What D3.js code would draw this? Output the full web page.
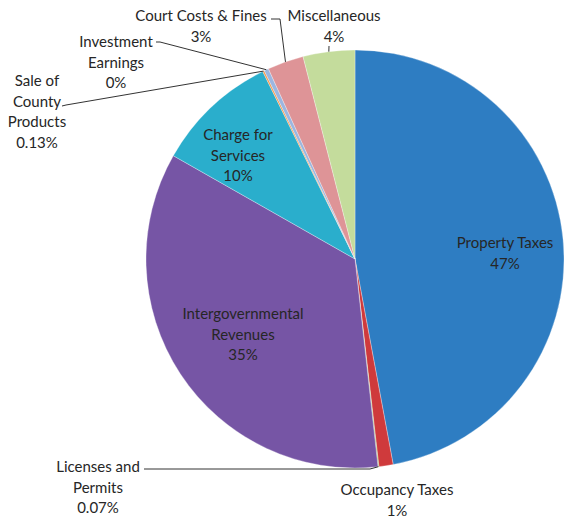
<!DOCTYPE html>
<html><head><meta charset="utf-8">
<script src="https://cdn.jsdelivr.net/npm/d3@7"></script>
<style>body{margin:0;background:#fff}svg{display:block}text{font-family:Lato,"Open Sans",sans-serif;font-size:15px;fill:#262626}</style>
</head><body><svg id="c" width="564" height="518"></svg>
<script>
const categories = ["Property Taxes","Occupancy Taxes","Licenses and Permits","Intergovernmental Revenues","Charge for Services","Sale of County Products","Investment Earnings","Court Costs & Fines","Miscellaneous"];
const values = [47.1, 1.1, 0.07, 35.0, 9.5, 0.13, 0.35, 2.8, 4.0];
const labels = [["Property Taxes","47%"],["Occupancy Taxes","1%"],["Licenses and","Permits","0.07%"],["Intergovernmental","Revenues","35%"],["Charge for","Services","10%"],["Sale of","County","Products","0.13%"],["Investment","Earnings","0%"],["Court Costs & Fines","3%"],["Miscellaneous","4%"]];
const colors = ["#2E7DC2","#CF3A3C","#9BBB59","#7655A5","#2AAECC","#F79646","#9CB6E0","#DE9497","#C4DC9C"];

const svg = d3.select("#c");
const cx = 355, cy = 259, R = 209;
const g = svg.append("g").attr("transform", `translate(${cx},${cy})`);
const pie = d3.pie().sort(null).value(d => d)(values);
const arc = d3.arc().innerRadius(0).outerRadius(R);
g.selectAll("path").data(pie).join("path")
  .attr("d", arc).attr("fill", (d,i) => colors[i])
  .attr("stroke", "rgba(255,255,255,0.5)").attr("stroke-width", 0.6);

const pos = [[505,243],[397,490],[98,467],[243,314],[238,135],[37,81],[116,42],[201,16],[334,16]];
const lh = 20.5;
labels.forEach((ls, i) => {
  const t = svg.append("text").attr("text-anchor","middle");
  ls.forEach((s, j) => t.append("tspan").attr("x", pos[i][0]).attr("y", pos[i][1] + j*lh + 5).text(s));
});

function edge(i, frac) {
  const d = pie[i];
  const a = d.startAngle + (d.endAngle - d.startAngle) * frac;
  return [cx + Math.sin(a) * R, cy - Math.cos(a) * R];
}
const line = d3.line();
const leaders = [
  [[144,469],[370,469], edge(2,0.5)],
  [[62,106],[66,105], edge(5,0.5)],
  [[156,42],[160,42], edge(6,0.5)],
  [[271,19],[280,19], edge(7,0.5)],
  [[329,46], edge(8,0.5)]
];
svg.selectAll("path.ld").data(leaders).join("path").attr("class","ld")
  .attr("d", d => line(d)).attr("fill","none").attr("stroke","#333").attr("stroke-width",1);
</script></body></html>
